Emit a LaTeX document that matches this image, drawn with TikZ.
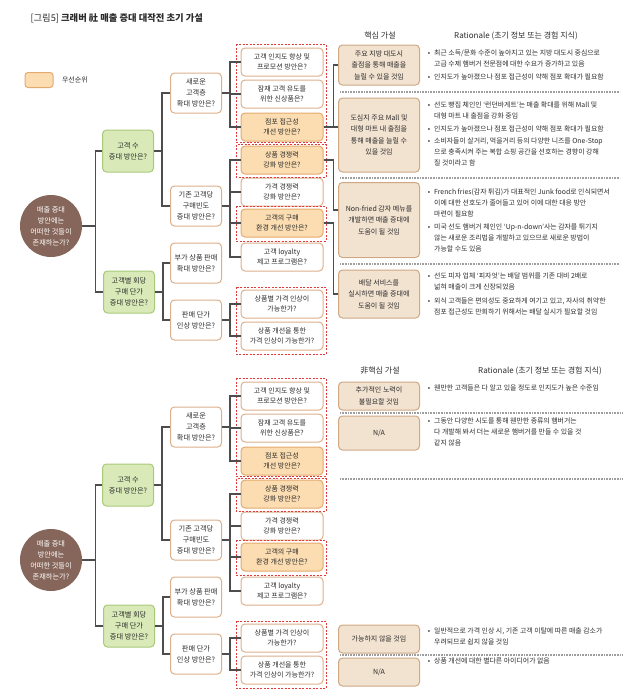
\documentclass[tikz,border=0pt]{standalone}
\usepackage{fontspec}
\setmainfont{Noto Sans CJK KR}
\usepackage{tikz}
\usetikzlibrary{positioning}

\definecolor{rootbrown}{HTML}{86665A}
\definecolor{greenfill}{HTML}{D9EAB8}
\definecolor{greenline}{HTML}{A9C97A}
\definecolor{tanline}{HTML}{DDB08C}
\definecolor{orangefill}{HTML}{FCDDB1}
\definecolor{orangeline}{HTML}{E3A96E}
\definecolor{hypfill}{HTML}{F2E2D0}
\definecolor{hypline}{HTML}{CFA886}
\definecolor{reddash}{HTML}{E23B3B}
\definecolor{linegray}{HTML}{4D4D4D}
\definecolor{txt}{HTML}{2B2B2B}

\tikzset{
  base/.style={rounded corners=4pt, line width=1pt, align=center, text=txt, inner sep=1pt,
    font=\fontsize{7}{10.5}\selectfont},
  rootnode/.style={circle, fill=rootbrown, minimum size=62pt, text=white, align=center,
    inner sep=0pt, font=\fontsize{7.2}{11}\selectfont},
  lvone/.style={base, draw=greenline, fill=greenfill, minimum width=51pt, minimum height=42pt,
    font=\fontsize{7.2}{11}\selectfont},
  lvtwo/.style={base, draw=tanline, fill=white, minimum width=51pt, minimum height=40pt,
    font=\fontsize{7.2}{11}\selectfont},
  leaf/.style={base, draw=tanline, fill=white, minimum width=82pt, minimum height=28pt},
  prio/.style={leaf, draw=orangeline, fill=orangefill},
  hyp/.style={base, draw=hypline, fill=hypfill, minimum width=81pt, font=\fontsize{7}{11.5}\selectfont},
  conn/.style={draw=linegray, line width=1.1pt},
  grp/.style={draw=reddash, line width=0.9pt, dash pattern=on 2pt off 1.5pt},
  sep/.style={draw=gray!75, line width=1.1pt, dash pattern=on 0.8pt off 0.8pt},
  rat/.style={anchor=north west, align=left, text=txt, inner sep=0pt,
    font=\fontsize{6.9}{11}\selectfont},
  head/.style={text=txt, font=\fontsize{8}{10}\selectfont},
}
\newcommand{\bul}{\llap{•\hspace{4pt}}}

\begin{document}
\begin{tikzpicture}[x=1pt,y=-1pt]
\useasboundingbox (0,0) rectangle (640,699);

% title and legend
\node[anchor=west, text=txt, font=\fontsize{9.3}{11}\selectfont] (title) at (27,18)
  {[그림5] \textbf{크래버 社 매출 증대 대작전 초기 가설}};
\node[prio, minimum width=28pt, minimum height=15pt, rounded corners=3pt] (legbox) at (39,80) {};
\node[anchor=west, text=txt, font=\fontsize{7}{9}\selectfont] (legtxt) [right=5pt of legbox] {우선순위};

% the two issue trees
\foreach \dy/\p in {0/t,334/b}{
\begin{scope}[yshift=-\dy pt]
  \node[rootnode] (root\p) at (51,226) {매출 증대\\방안에는\\어떠한 것들이\\존재하는가?};

  \node[lvone] (gA\p) at (128,151) {고객 수\\증대 방안은?};
  \node[lvone] (gB\p) at (129,292) {고객별 회당\\구매 단가\\증대 방안은?};

  \node[lvtwo] (n1\p) at (196,93) {새로운\\고객층\\확대 방안은?};
  \node[lvtwo] (n2\p) at (196,206) {기존 고객당\\구매빈도\\증대 방안은?};
  \node[lvtwo] (n3\p) at (196,263) {부가 상품 판매\\확대 방안은?};
  \node[lvtwo] (n4\p) at (196,320) {판매 단가\\인상 방안은?};

  \node[leaf] (a1\p) at (282,62) {고객 인지도 향상 및\\프로모션 방안은?};
  \node[leaf] (a2\p) at (282,94) {잠재 고객 유도를\\위한 신상품은?};
  \node[prio] (a3\p) at (282,127) {점포 접근성\\개선 방안은?};
  \node[prio] (a4\p) at (282,160) {상품 경쟁력\\강화 방안은?};
  \node[leaf] (a5\p) at (282,192) {가격 경쟁력\\강화 방안은?};
  \node[prio] (a6\p) at (282,223) {고객의 구매\\환경 개선 방안은?};
  \node[leaf] (a7\p) at (282,257) {고객 loyalty\\제고 프로그램은?};
  \node[leaf] (a8\p) at (282,304) {상품별 가격 인상이\\가능한가?};
  \node[leaf] (a9\p) at (282,336) {상품 개선을 통한\\가격 인상이 가능한가?};

  \draw[grp] (236,44) rectangle (326,142);
  \draw[grp] (236,144.5) rectangle (326,177);
  \draw[grp] (236,206) rectangle (326,241);
  \draw[grp] (236,287) rectangle (326,354);

  \draw[conn] (root\p.east) -- ++(13,0) |- (gA\p.west);
  \draw[conn] (root\p.east) -- ++(13,0) |- (gB\p.west);
  \draw[conn] (gA\p.east) -- ++(8,0) |- (n1\p.west);
  \draw[conn] (gA\p.east) -- ++(8,0) |- (n2\p.west);
  \draw[conn] (gB\p.east) -- ++(8,0) |- (n3\p.west);
  \draw[conn] (gB\p.east) -- ++(8,0) |- (n4\p.west);
  \foreach \c in {1,2,3}
    \draw[conn] (n1\p.east) -- ++(8,0) |- (a\c\p.west);
  \foreach \c in {4,5,6,7}
    \draw[conn] (n2\p.east) -- ++(8,0) |- (a\c\p.west);
  \foreach \c in {8,9}
    \draw[conn] (n4\p.east) -- ++(8,0) |- (a\c\p.west);
\end{scope}
}

% core hypotheses
\node[head] (hhead) at (380,36) {핵심 가설};
\node[head] (rhead) at (516,36) {Rationale (초기 정보 또는 경험 지식)};

\node[hyp, minimum height=40pt] (h1) at (379,65) {주요 지방 대도시\\출점을 통해 매출을\\늘릴 수 있을 것임};
\node[hyp, minimum height=74pt] (h2) at (379,135) {도심지 주요 Mall 및\\대형 마트 내 출점을\\통해 매출을 늘릴 수\\있을 것임};
\node[hyp, minimum height=75pt] (h3) at (379,220) {Non-fried 감자 메뉴를\\개발하면 매출 증대에\\도움이 될 것임};
\node[hyp, minimum height=48pt] (h4) at (379,294) {배달 서비스를\\실시하면 매출 증대에\\도움이 될 것임};

\draw[conn] (a3t.east) -- (a3t.east -| h2.west);
\draw[conn] (a3t.east) -- ++(10,0) |- (h1.west);
\draw[conn] (a4t.east) -- ++(10,0) |- ([yshift=10pt]h3.west);
\draw[conn] (a6t.east) -- ++(10,0) |- (h4.west);

\draw[sep] (340,92) -- (620,92);
\draw[sep] (340,178) -- (620,178);
\draw[sep] (340,264) -- (620,264);

\node[rat] (r1a) at (434,50) {\bul 최근 소득/문화 수준이 높아지고 있는 지방 대도시 중심으로\\고급 수제 햄버거 전문점에 대한 수요가 증가하고 있음};
\node[rat] (r1b) at (434,74) {\bul 인지도가 높아졌으나 점포 접근성이 약해 점포 확대가 필요함};
\node[rat] (r2a) at (434,102) {\bul 선도 빵집 체인인 `런던바게트'는 매출 확대를 위해 Mall 및\\대형 마트 내 출점을 강화 중임};
\node[rat] (r2b) at (434,126) {\bul 인지도가 높아졌으나 점포 접근성이 약해 점포 확대가 필요함};
\node[rat] (r2c) at (434,138) {\bul 소비자들이 살거리, 먹을거리 등의 다양한 니즈를 One-Stop\\으로 충족시켜 주는 복합 쇼핑 공간을 선호하는 경향이 강해\\질 것이라고 함};
\node[rat] (r3a) at (434,189) {\bul French fries(감자 튀김)가 대표적인 Junk food로 인식되면서\\이에 대한 선호도가 줄어들고 있어 이에 대한 대응 방안\\마련이 필요함};
\node[rat] (r3b) at (434,224) {\bul 미국 선도 햄버거 체인인 `Up-n-down'사는 감자를 튀기지\\않는 새로운 조리법을 개발하고 있으므로 새로운 방법이\\가능할 수도 있음};
\node[rat] (r4a) at (434,273) {\bul 선도 피자 업체 `피자엇'는 배달 범위를 기존 대비 2배로\\넓혀 매출이 크게 신장되었음};
\node[rat] (r4b) at (434,298) {\bul 외식 고객들은 편의성도 중요하게 여기고 있고, 자사의 취약한\\점포 접근성도 만회하기 위해서는 배달 실시가 필요할 것임};

% non-core hypotheses
\node[head] (khead) at (380,371) {非핵심 가설};
\node[head] (qhead) at (540,371) {Rationale (초기 정보 또는 경험 지식)};

\node[hyp, minimum height=28pt] (k1) at (379,396) {추가적인 노력이\\불필요할 것임};
\node[hyp, minimum height=34pt] (k2) at (379,433) {N/A};
\node[hyp, minimum height=28pt] (k3) at (379,639) {가능하지 않을 것임};
\node[hyp, minimum height=28pt] (k4) at (379,672) {N/A};

\draw[sep] (340,413) -- (622,413);
\draw[sep] (340,479) -- (622,479);
\draw[sep] (340,655) -- (622,655);

\node[rat] (q1) at (434,385) {\bul 웬만한 고객들은 다 알고 있을 정도로 인지도가 높은 수준임};
\node[rat] (q2) at (434,418) {\bul 그동안 다양한 시도를 통해 웬만한 종류의 햄버거는\\다 개발해 봐서 더는 새로운 햄버거를 만들 수 있을 것\\같지 않음};
\node[rat] (q3) at (434,628) {\bul 일반적으로 가격 인상 시, 기존 고객 이탈에 따른 매출 감소가\\우려되므로 쉽지 않을 것임};
\node[rat] (q4) at (434,658) {\bul 상품 개선에 대한 별다른 아이디어가 없음};
\end{tikzpicture}
\end{document}
